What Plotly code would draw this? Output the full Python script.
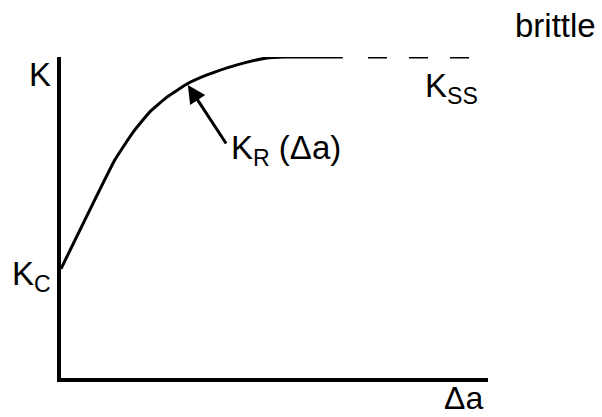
import plotly.graph_objects as go

# R-curve data (arbitrary units: crack extension Δa 0..100, K 0..100)
curve_da = [0, 12.6, 16.9, 20.8, 24.8, 29.5, 34.2, 38.9, 43.6, 48.2, 52.5, 66.0]
curve_k = [34.0, 67.9, 76.6, 82.9, 87.5, 91.6, 94.4, 96.6, 98.4, 99.7, 100, 100]
plateau_da = [71.9, 95.8]
plateau_k = [100, 100]
arrow_head = (29.7, 91.3)
arrow_tail = (38.9, 72.6)

FONT = "Liberation Sans, Arial, sans-serif"
W, H = 602, 417
L, R, T, B = 61, 114, 57, 39
PX0, PY0 = L, T
PW, PH = W - L - R, H - T - B

def paper(sx, sy):
    return (sx - PX0) / PW, (PY0 + PH - sy) / PH

fig = go.Figure()
fig.add_trace(go.Scatter(x=curve_da, y=curve_k, mode="lines",
                         line=dict(color="black", width=3, shape="spline", smoothing=0.35),
                         hoverinfo="skip", cliponaxis=False))
fig.add_trace(go.Scatter(x=plateau_da, y=plateau_k, mode="lines",
                         line=dict(color="black", width=3, dash="19px,22px"),
                         hoverinfo="skip", cliponaxis=False))

def ann(text, sx, sy, size=33, xanchor="center", yanchor="middle"):
    px, py = paper(sx, sy)
    fig.add_annotation(text=text, x=px, y=py, xref="paper", yref="paper", showarrow=False,
                       xanchor=xanchor, yanchor=yanchor, borderpad=0,
                       font=dict(family=FONT, size=size, color="black"))

ann("K", 52, 74, xanchor="right")
ann("K<sub>C</sub>", 52, 276, xanchor="right")
ann("K<sub>SS</sub>", 424, 88, xanchor="left")
ann("brittle", 555, 25)
ann("Δa", 463, 398, size=32)
ann("K<sub>R</sub> (Δa)", 230, 150, xanchor="left")

fig.add_annotation(x=arrow_head[0], y=arrow_head[1], ax=arrow_tail[0], ay=arrow_tail[1],
                   xref="x", yref="y", axref="x", ayref="y", text="", showarrow=True,
                   arrowhead=2, arrowsize=1.2, arrowwidth=3, arrowcolor="black")

fig.update_layout(
    width=W, height=H,
    margin=dict(l=L, r=R, t=T, b=B, autoexpand=False),
    paper_bgcolor="white", plot_bgcolor="white",
    showlegend=False,
    xaxis=dict(range=[0, 100], showgrid=False, zeroline=False, showticklabels=False,
               ticks="", showline=True, linecolor="black", linewidth=4, fixedrange=True),
    yaxis=dict(range=[0, 100], showgrid=False, zeroline=False, showticklabels=False,
               ticks="", showline=True, linecolor="black", linewidth=4, fixedrange=True),
)
fig.write_html("out.html", config={"displayModeBar": False},
               post_script="document.body.style.margin='0';document.body.style.overflow='hidden';")
